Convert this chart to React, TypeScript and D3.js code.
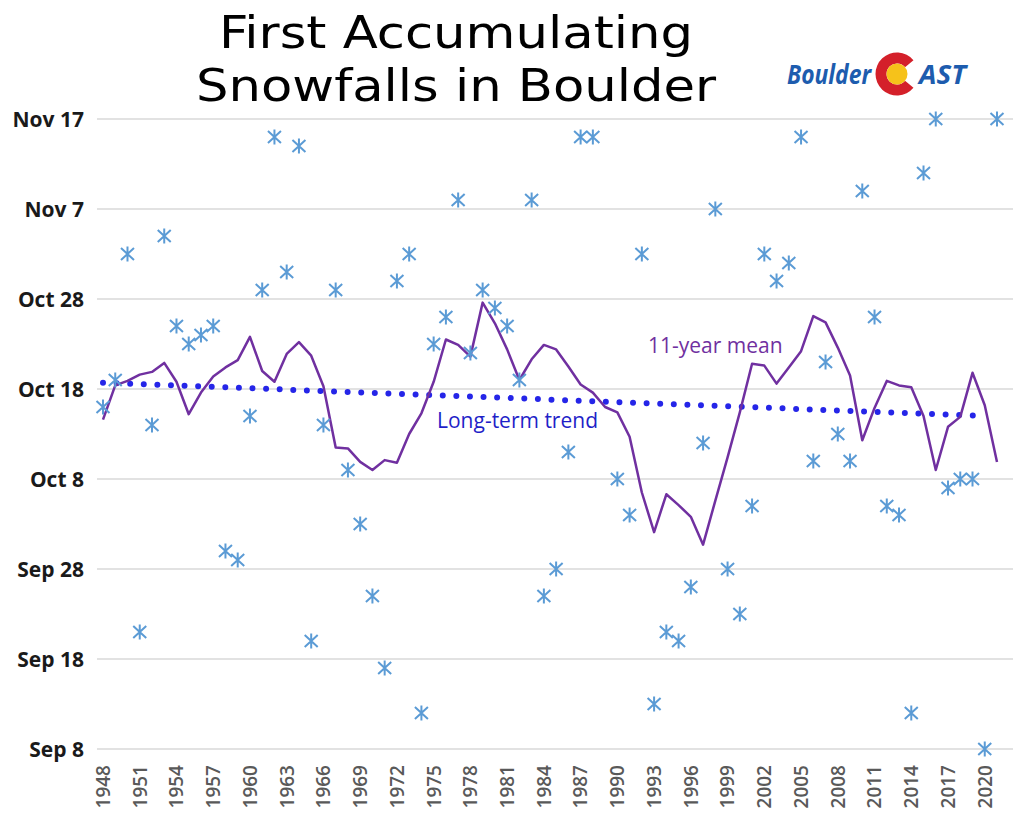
import React from "react";
import * as d3 from "d3";

// ---------- DATA ----------
const years: number[] = [
  1948, 1949, 1950, 1951, 1952, 1953, 1954, 1955, 1956, 1957,
  1958, 1959, 1960, 1961, 1962, 1963, 1964, 1965, 1966, 1967,
  1968, 1969, 1970, 1971, 1972, 1973, 1974, 1975, 1976, 1977,
  1978, 1979, 1980, 1981, 1982, 1983, 1984, 1985, 1986, 1987,
  1988, 1989, 1990, 1991, 1992, 1993, 1994, 1995, 1996, 1997,
  1998, 1999, 2000, 2001, 2002, 2003, 2004, 2005, 2006, 2007,
  2008, 2009, 2010, 2011, 2012, 2013, 2014, 2015, 2016, 2017,
  2018, 2019, 2020, 2021,
];

// First accumulating snowfall date per season (null = no point shown)
const firstSnow: (string | null)[] = [
  "Oct 16", "Oct 19", "Nov 2", "Sep 21", "Oct 14", "Nov 4", "Oct 25", "Oct 23", "Oct 24", "Oct 25",
  "Sep 30", "Sep 29", "Oct 15", "Oct 29", "Nov 15", "Oct 31", "Nov 14", "Sep 20", "Oct 14", "Oct 29",
  "Oct 9", "Oct 3", "Sep 25", "Sep 17", "Oct 30", "Nov 2", "Sep 12", "Oct 23", "Oct 26", "Nov 8",
  "Oct 22", "Oct 29", "Oct 27", "Oct 25", "Oct 19", "Nov 8", "Sep 25", "Sep 28", "Oct 11", "Nov 15",
  "Nov 15", null, "Oct 8", "Oct 4", "Nov 2", "Sep 13", "Sep 21", "Sep 20", "Sep 26", "Oct 12",
  "Nov 7", "Sep 28", "Sep 23", "Oct 5", "Nov 2", "Oct 30", "Nov 1", "Nov 15", "Oct 10", "Oct 21",
  "Oct 13", "Oct 10", "Nov 9", "Oct 26", "Oct 5", "Oct 4", "Sep 12", "Nov 11", "Nov 17", "Oct 7",
  "Oct 8", "Oct 8", "Sep 8", "Nov 17",
];

// 11-year mean, in days after Sep 8
const mean11: number[] = [
  36.6, 40.4, 40.9, 41.6, 41.9, 42.9, 40.8, 37.2, 39.6, 41.4,
  42.4, 43.2, 45.8, 42.0, 40.8, 43.9, 45.2, 43.7, 40.3, 33.5,
  33.4, 31.9, 31.0, 32.1, 31.8, 35.0, 37.3, 40.8, 45.5, 44.9,
  43.6, 49.6, 47.3, 44.4, 41.0, 43.3, 44.9, 44.4, 42.5, 40.5,
  39.6, 38.0, 37.4, 34.7, 28.5, 24.1, 28.3, 27.1, 25.8, 22.7,
  27.6, 32.4, 37.4, 42.8, 42.6, 40.6, 42.4, 44.2, 48.1, 47.4,
  44.6, 41.5, 34.3, 37.9, 40.9, 40.4, 40.2, 37.0, 31.0, 35.8,
  36.9, 41.8, 38.2, 31.9,
];

// Long-term linear trend end points (days after Sep 8)
const trendYears: number[] = [1948, 2020];
const trendDays: number[] = [40.7, 37.0];

const yTickLabels: string[] = ["Sep 8", "Sep 18", "Sep 28", "Oct 8", "Oct 18", "Oct 28", "Nov 7", "Nov 17"];
const xTickYears: number[] = [
  1948, 1951, 1954, 1957, 1960, 1963, 1966, 1969, 1972, 1975, 1978, 1981, 1984,
  1987, 1990, 1993, 1996, 1999, 2002, 2005, 2008, 2011, 2014, 2017, 2020,
];

const titleLines: string[] = ["First Accumulating", "Snowfalls in Boulder"];

// ---------- HELPERS ----------
const parse = d3.timeParse("%b %d %Y");
const base = parse("Sep 8 2001") as Date;
const toDays = (s: string) => d3.timeDay.count(base, parse(s + " 2001") as Date);

export default function App() {
  const W = 1024, H = 829;
  const x = d3.scalePoint<number>().domain(years).range([103, 997]);
  const y = d3.scaleLinear().domain([0, 70]).range([749, 119]);
  const gridX0 = 97, gridX1 = 1013;

  const pts = years
    .map((yr, i) => ({ yr, v: firstSnow[i] }))
    .filter((d) => d.v !== null)
    .map((d) => ({ yr: d.yr, days: toDays(d.v as string) }));

  const meanLine = d3
    .line<number>()
    .x((_, i) => x(years[i]) as number)
    .y((d) => y(d))(mean11) as string;

  const trendLine = d3
    .line<number>()
    .x((_, i) => x(trendYears[i]) as number)
    .y((d) => y(d))(trendDays) as string;

  const star = "M0,-7.5L0,7.5M-6.5,-6L6.5,6M-6.5,6L6.5,-6";

  const cArc = d3
    .arc()
    .innerRadius(10.5)
    .outerRadius(21.5)
    .startAngle((130 * Math.PI) / 180)
    .endAngle((410 * Math.PI) / 180)({} as any) as string;

  return (
    <svg
      width={W}
      height={H}
      style={{ position: "absolute", left: 0, top: 0, background: "#fff" }}
      xmlns="http://www.w3.org/2000/svg"
    >
      <rect x={0} y={0} width={W} height={H} fill="#fff" />

      {/* Title (one text element, two lines) */}
      <text
        textAnchor="middle"
        fontFamily="'DejaVu Sans Condensed', 'DejaVu Sans', sans-serif"
        fontStretch="condensed"
        fontSize={45}
        fill="#000"
      >
        {titleLines.map((t, i) => (
          <tspan
            key={t}
            x={456}
            y={48 + i * 53}
            textLength={i === 0 ? 474 : 520}
            lengthAdjust="spacingAndGlyphs"
          >
            {t}
          </tspan>
        ))}
      </text>

      {/* Logo */}
      <g>
        <text
          x={787}
          y={84}
          fontFamily="'Open Sans', sans-serif"
          fontWeight={700}
          fontStyle="italic"
          fontSize={26}
          fill="#1d5cae"
          textLength={84}
          lengthAdjust="spacingAndGlyphs"
        >
          Boulder
        </text>
        <g transform="translate(897,74)">
          <path d={cArc} fill="#d4202a" />
          <circle r={10.5} fill="#f6c21a" />
        </g>
        <text
          x={919}
          y={84}
          fontFamily="'Open Sans', sans-serif"
          fontWeight={700}
          fontStyle="italic"
          fontSize={26}
          fill="#1d5cae"
          textLength={47}
          lengthAdjust="spacingAndGlyphs"
        >
          AST
        </text>
      </g>

      {/* Gridlines and y labels */}
      {yTickLabels.map((lab) => {
        const yy = y(toDays(lab));
        return (
          <g key={lab}>
            <line x1={gridX0} x2={gridX1} y1={yy} y2={yy} stroke="#d9d9d9" strokeWidth={1.3} />
            <text
              x={84}
              y={yy}
              dy="0.36em"
              textAnchor="end"
              fontFamily="'Open Sans', sans-serif"
              fontWeight={700}
              fontSize={21}
              fill="#1a1a1a"
            >
              {lab}
            </text>
          </g>
        );
      })}

      {/* X labels */}
      {xTickYears.map((yr) => {
        const xx = x(yr) as number;
        return (
          <text
            key={yr}
            transform={`translate(${xx},765) rotate(-90)`}
            dy="0.36em"
            textAnchor="end"
            fontFamily="'Open Sans', sans-serif"
            fontWeight={600}
            fontSize={19}
            fill="#595959"
          >
            {yr}
          </text>
        );
      })}

      {/* Trend (dotted) */}
      <path
        d={trendLine}
        fill="none"
        stroke="#2525e8"
        strokeWidth={6}
        strokeLinecap="round"
        strokeDasharray="0 13.6"
      />

      {/* 11-year mean */}
      <path d={meanLine} fill="none" stroke="#7030a0" strokeWidth={2.5} strokeLinejoin="round" />

      {/* Data points */}
      {pts.map((p) => (
        <path
          key={p.yr}
          d={star}
          transform={`translate(${x(p.yr)},${y(p.days)})`}
          stroke="#5b9bd5"
          strokeWidth={2}
          fill="none"
        />
      ))}

      {/* Annotations */}
      <text
        x={437}
        y={428}
        fontFamily="'Open Sans', sans-serif"
        fontSize={21}
        fill="#1f1fc8"
      >
        Long-term trend
      </text>
      <text
        x={648}
        y={353}
        fontFamily="'Open Sans', sans-serif"
        fontSize={21}
        fill="#7030a0"
      >
        11-year mean
      </text>
    </svg>
  );
}
